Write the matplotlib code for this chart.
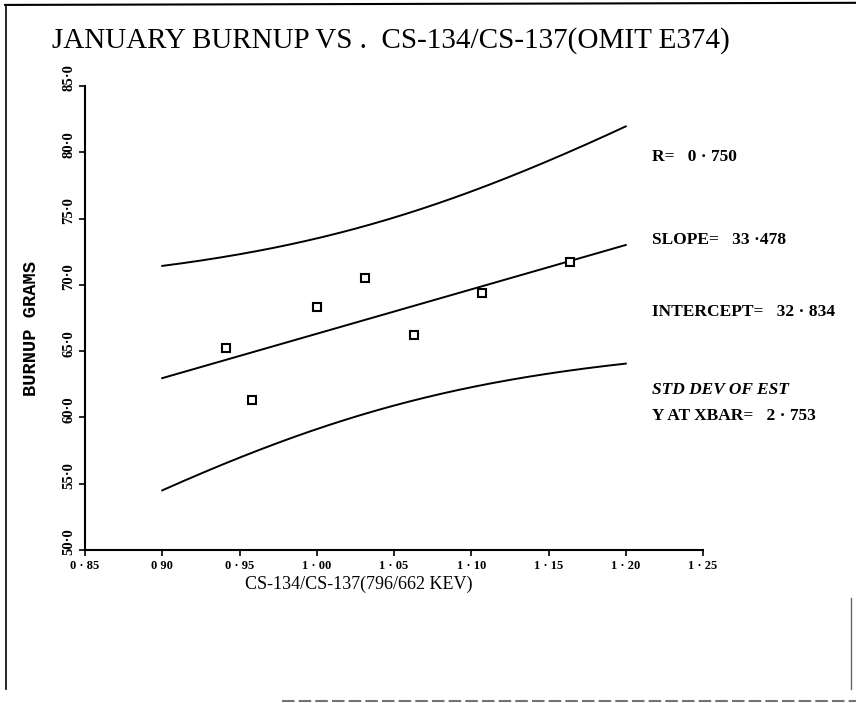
import numpy as np
import matplotlib.pyplot as plt
import matplotlib.transforms as mtransforms
from matplotlib.lines import Line2D

# puntos medidos (relacion CS-134/CS-137 frente a quemado en gramos)
razon = [0.941, 0.958, 1.000, 1.031, 1.063, 1.107, 1.164]
quemado = [65.2, 61.3, 68.3, 70.5, 66.2, 69.4, 71.7]

# resultados del ajuste
r_corr = 0.750
pendiente = 33.478
ordenada = 32.834
desv_xbar = 2.753
t_95 = 2.571  # t de Student, 5 grados de libertad

x_ticks = [0.85, 0.90, 0.95, 1.00, 1.05, 1.10, 1.15, 1.20, 1.25]
x_etiq = ["0 · 85", "0 90", "0 · 95", "1 · 00", "1 · 05", "1 · 10", "1 · 15", "1 · 20", "1 · 25"]
y_ticks = [50, 55, 60, 65, 70, 75, 80, 85]
y_etiq = ["50·0", "55·0", "60·0", "65·0", "70·0", "75·0", "80·0", "85·0"]

serif = "Liberation Serif"

fig = plt.figure(figsize=(8.56, 7.03), dpi=100)
ax = fig.add_axes([0.0993, 0.2176, 0.7220, 0.6601])

# recta de regresion y banda de prediccion
x = np.array(razon)
n = len(x)
xbar = x.mean()
sxx = ((x - xbar) ** 2).sum()
s2 = desv_xbar ** 2 / (1 + 1 / n)
xs = np.linspace(0.90, 1.20, 200)
ys = ordenada + pendiente * xs
semi = t_95 * np.sqrt(desv_xbar ** 2 + s2 * (xs - xbar) ** 2 / sxx)

ax.plot(xs, ys, color="black", lw=1.4)
ax.plot(xs, ys + semi, color="black", lw=1.4)
ax.plot(xs, ys - semi, color="black", lw=1.4)
ax.plot(razon, quemado, "s", mfc="white", mec="black", mew=1.5, ms=6)

ax.set_xlim(0.85, 1.25)
ax.set_ylim(50, 85)
ax.spines["top"].set_visible(False)
ax.spines["right"].set_visible(False)
ax.spines["left"].set_linewidth(1.5)
ax.spines["bottom"].set_linewidth(1.5)

ax.set_xticks(x_ticks)
ax.set_xticklabels(x_etiq, fontfamily=serif, fontweight="bold", fontsize=9)
ax.set_yticks(y_ticks)
ax.set_yticklabels(y_etiq, fontfamily=serif, fontweight="bold", fontsize=10.5,
                   rotation=90, va="center")
ax.tick_params(axis="both", length=4, width=1.2, pad=3)

desplaza = mtransforms.ScaledTranslation(0, 8 / 100, fig.dpi_scale_trans)
for et in ax.get_yticklabels():
    et.set_transform(et.get_transform() + desplaza)

ax.set_xlabel("CS-134/CS-137(796/662 KEV)", fontfamily=serif, fontsize=13)
ax.xaxis.set_label_coords(0.443, -0.055)
fig.text(0.037, 0.533, "BURNUP GRAMS", rotation=90, ha="center", va="center",
         fontfamily="Liberation Mono", fontweight="bold", fontsize=13.5)

fig.text(0.061, 0.943, "JANUARY BURNUP VS .  CS-134/CS-137(OMIT E374)",
         fontfamily=serif, fontsize=21, ha="left", va="center")

# resumen del ajuste a la derecha
estilo = dict(fontfamily=serif, fontweight="bold", fontsize=12.5, ha="left",
              va="center", transform=fig.transFigure)
xt = 652 / 856
fig.text(xt, 1 - 157 / 703, f"R=   {r_corr:.3f}".replace(".", " · "), **estilo)
fig.text(xt, 1 - 240 / 703, f"SLOPE=   {pendiente:.3f}".replace(".", " ·"), **estilo)
fig.text(xt, 1 - 312 / 703, f"INTERCEPT=   {ordenada:.3f}".replace(".", " · "), **estilo)
fig.text(xt, 1 - 390 / 703, "STD DEV OF EST", style="italic", **estilo)
fig.text(xt, 1 - 416 / 703, f"Y AT XBAR=   {desv_xbar:.3f}".replace(".", " · "), **estilo)

# marco de la hoja
fig.add_artist(Line2D([0.006, 1.0], [0.993, 0.996], color="black", lw=1.5))
fig.add_artist(Line2D([0.007, 0.007], [0.02, 0.993], color="black", lw=1.2))
fig.add_artist(Line2D([0.33, 1.0], [0.003, 0.003], color="0.45", lw=1.5,
                      ls=(0, (6, 2))))
fig.add_artist(Line2D([0.994, 0.994], [0.02, 0.15], color="0.4", lw=1.0))

fig.savefig("out.png", dpi=100)
